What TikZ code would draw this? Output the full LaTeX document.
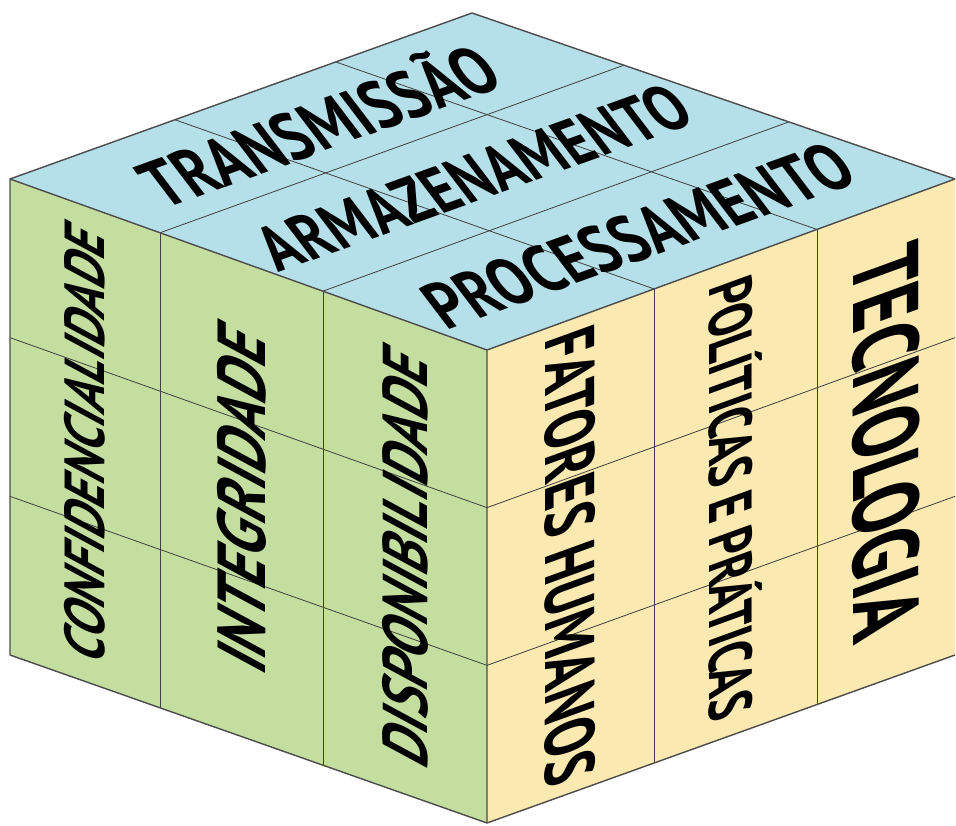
\documentclass[tikz,border=0pt]{standalone}
\usepackage{fontspec}
\setmainfont{PT Sans}
\usetikzlibrary{calc}
\definecolor{topblue}{RGB}{182,224,233}
\definecolor{facegreen}{RGB}{196,222,160}
\definecolor{faceyellow}{RGB}{250,233,176}
\begin{document}
\begin{tikzpicture}[x=1pt, y=1pt,
    rim/.style={draw=black!70, line width=1.4pt, line join=round},
    cut/.style={draw=black!75, line width=0.8pt},
    toplbl/.style={transform shape, inner sep=0pt, cm={0.85,0.306,-0.7,0.92,(0,0)}, font=\bfseries\fontsize{#1}{#1}\selectfont},
    leftlbl/.style={transform shape, inner sep=0pt, cm={0,1,-1.15,0.41,(0,0)}, font=\bfseries\itshape\fontsize{#1}{#1}\selectfont},
    rightlbl/.style={transform shape, inner sep=0pt, cm={0,-1,1.35,0.49,(0,0)}, font=\bfseries\fontsize{#1}{#1}\selectfont}]
    \useasboundingbox (0,0) rectangle (956,825);

    % cantos do cubo
    \coordinate (F) at (487,475);
    \coordinate (L) at (10,646);
    \coordinate (T) at (472,812);
    \coordinate (R) at (955,646);
    \coordinate (Fb) at (487,2);
    \coordinate (Lb) at (10,170);
    \coordinate (Rb) at (955,170);

    % faces
    \fill[topblue] (F) -- (L) -- (T) -- (R) -- cycle;
    \fill[facegreen] (L) -- (F) -- (Fb) -- (Lb) -- cycle;
    \fill[faceyellow] (F) -- (R) -- (Rb) -- (Fb) -- cycle;

    % grade
    \foreach \c in {0.3145,0.656}
        \draw[cut] ($(L)!\c!(F)$) -- ($(Lb)!\c!(Fb)$);
    \foreach \c in {0.357,0.705}
        \draw[cut] ($(F)!\c!(R)$) -- ($(Fb)!\c!(Rb)$);
    \foreach \r in {0.3333,0.6667}
        \draw[cut] ($(L)!\r!(Lb)$) -- ($(F)!\r!(Fb)$) -- ($(R)!\r!(Rb)$);
    \foreach \a in {0.344,0.6855}
        \draw[cut] ($(F)!\a!(L)$) -- ($(R)!\a!(T)$);
    \foreach \b in {0.357,0.705}
        \draw[cut] ($(F)!\b!(R)$) -- ($(L)!\b!(T)$);

    \draw[rim] (R) -- (T) -- (L) -- (Lb) -- (Fb) -- (Rb);
    \draw[rim] (L) -- (F) -- (R) (F) -- (Fb);

    % topo
    \path ($(F)!0.843!(L)$) coordinate (p1) ($(R)!0.843!(T)$) coordinate (q1)
          ($(F)!0.515!(L)$) coordinate (p2) ($(R)!0.515!(T)$) coordinate (q2)
          ($(F)!0.172!(L)$) coordinate (p3) ($(R)!0.172!(T)$) coordinate (q3);
    \node[toplbl=64] (transm) at ($(p1)!0.5!(q1)$) {TRANSMISSÃO};
    \node[toplbl=61] (armaz) at ($(p2)!0.5!(q2)$) {ARMAZENAMENTO};
    \node[toplbl=63] (proc) at ($(p3)!0.5!(q3)$) {PROCESSAMENTO};

    % face esquerda
    \node[leftlbl=49] (conf) at ($($(L)!0.157!(F)$)!0.5!($(Lb)!0.157!(Fb)$)$) {CONFIDENCIALIDADE};
    \node[leftlbl=59] (integ) at ($($(L)!0.485!(F)$)!0.5!($(Lb)!0.485!(Fb)$)$) {INTEGRIDADE};
    \node[leftlbl=55] (disp) at ($($(L)!0.828!(F)$)!0.5!($(Lb)!0.828!(Fb)$)$) {DISPONIBILIDADE};

    % face direita
    \node[rightlbl=52] (fatores) at ($($(F)!0.1785!(R)$)!0.5!($(Fb)!0.1785!(Rb)$)$) {FATORES HUMANOS};
    \node[rightlbl=45] (politicas) at ($($(F)!0.531!(R)$)!0.5!($(Fb)!0.531!(Rb)$)$) {POLÍTICAS E PRÁTICAS};
    \node[rightlbl=69] (tecno) at ($($(F)!0.8525!(R)$)!0.5!($(Fb)!0.8525!(Rb)$)$) {TECNOLOGIA};
\end{tikzpicture}
\end{document}
